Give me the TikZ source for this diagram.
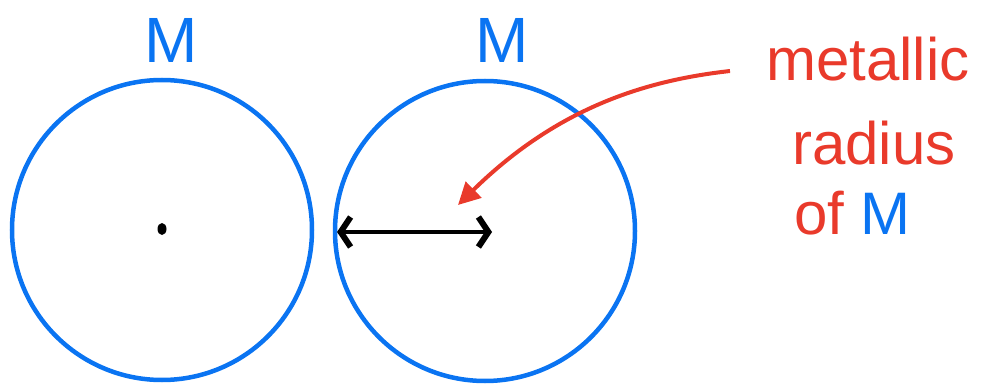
\documentclass[tikz,border=0pt]{standalone}
\usepackage{fontspec}
\setmainfont{Liberation Sans}
\usetikzlibrary{arrows.meta}
\definecolor{hblue}{HTML}{0A74F2}
\definecolor{hred}{HTML}{E93A2B}
\tikzset{
  atom/.style={circle, draw=hblue, line width=4.5pt, minimum size=300pt, inner sep=0pt},
  mlabel/.style={text=hblue, inner sep=0pt, font=\fontsize{64}{70}\selectfont},
  note/.style={text=hred, inner sep=0pt, anchor=base west, font=\fontsize{60}{70}\selectfont},
  radarrow/.style={line width=3.5pt, {Straight Barb[length=10pt,width=30pt,line width=6pt]}-{Straight Barb[length=10pt,width=30pt,line width=6pt]}},
  pointer/.style={draw=hred, line width=4pt, -{Triangle[length=22pt,width=22pt]}}
}
\begin{document}
\begin{tikzpicture}[x=1pt,y=-1pt]
\useasboundingbox (0,0) rectangle (986,385);
\node[atom] (A) at (162,230) {};
\node[atom] (B) at (485,231) {};
\node[mlabel] (MA) at (171,40) {M};
\node[mlabel] (MB) at (502,40) {M};
\fill (162,229) ellipse (4.5pt and 6pt);
\coordinate (L) at (337,232);
\coordinate (R) at (492,232);
\draw[radarrow] (L) -- (R);
\node[note] (t1) at (766,81) {metallic};
\node[note] (t2) at (792,165) {radius};
\node[note] (t3) at (794,234) {of \textcolor{hblue}{M}};
\coordinate (S) at (730,71);
\coordinate (T) at (458,205);
\draw[pointer] (S) .. controls (650,80) and (560,105) .. (T);
\end{tikzpicture}
\end{document}
